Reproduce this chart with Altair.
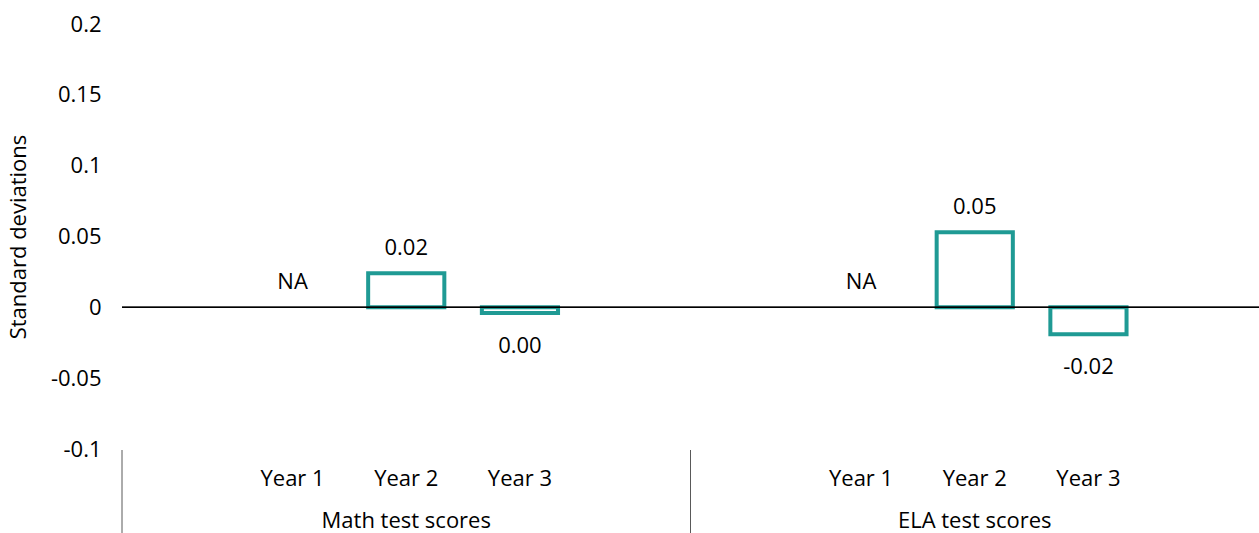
import altair as alt
import pandas as pd

# Effect sizes (standard deviations) by outcome and program year
groups = ["Math test scores", "ELA test scores"]
years = ["Year 1", "Year 2", "Year 3"]
math_scores = [None, 0.024, -0.004]
ela_scores = [None, 0.053, -0.019]

y_ticks = [-0.1, -0.05, 0, 0.05, 0.1, 0.15, 0.2]

TEAL = "#1f9a94"
FONT = "Open Sans"
FS = 22
W, H = 1137, 425


def fmt(v):
    s = f"{v:.2f}"
    return "0.00" if float(s) == 0 else s


# each group gets an empty slot on either side of its three years
slots = []
rows = []
for g, scores in zip(groups, [math_scores, ela_scores]):
    slots.append(f"{g}|_lead")
    for yr, v in zip(years, scores):
        key = f"{g}|{yr}"
        slots.append(key)
        rows.append({
            "slot": key,
            "value": v,
            "ypos": 0.0 if v is None else v,
            "label": "NA" if v is None else fmt(v),
            "side": "up" if v is None or v >= 0 else "down",
        })
    slots.append(f"{g}|_trail")
df = pd.DataFrame(rows)

df_groups = pd.DataFrame({
    "group": groups,
    "start": [f"{g}|_lead" for g in groups],
    "center": [f"{g}|{years[1]}" for g in groups],
})

x_scale = alt.Scale(domain=slots, paddingInner=0, paddingOuter=0)
y_scale = alt.Scale(domain=[-0.1, 0.2], nice=False, zero=False)

x_axis = alt.Axis(
    labelExpr="indexof(datum.value, '|_') >= 0 ? '' : slice(datum.value, indexof(datum.value, '|') + 1)",
    domain=False, ticks=False, grid=False, labelAngle=0,
    labelPadding=29, labelBaseline="middle", labelOverlap=False,
    labelFont=FONT, labelFontSize=FS, labelColor="#000",
)
y_axis = alt.Axis(
    values=y_ticks, labelExpr="datum.value + ''",
    domain=False, ticks=False, grid=False,
    labelPadding=21, labelFont=FONT, labelFontSize=FS, labelColor="#000",
    titleFont=FONT, titleFontSize=FS, titleColor="#000", titleFontWeight="normal",
    titleX=-104, titleY=H / 2, titleAlign="center", titleBaseline="middle",
)
Y_TITLE = "Standard deviations"


def xenc(field, **kw):
    return alt.X(field, scale=x_scale, axis=x_axis, title=None, **kw)


def yenc(field):
    return alt.Y(field, scale=y_scale, axis=y_axis, title=Y_TITLE)


bars = alt.Chart(df).transform_filter("isValid(datum.value)").mark_bar(
    filled=False, color=TEAL, strokeWidth=4,
    width=alt.RelativeBandSize(0.67),
).encode(
    x=xenc("slot:N"),
    y=yenc("value:Q"),
    y2=alt.datum(0),
)

zero_line = alt.Chart(df).mark_rule(color="#000", strokeWidth=1).encode(
    y=yenc("zero:Q")
).transform_calculate(zero="0")

labels_up = alt.Chart(df).transform_filter("datum.side == 'up'").mark_text(
    font=FONT, fontSize=FS, color="#000", baseline="middle", dy=-25
).encode(x=xenc("slot:N"), y=yenc("ypos:Q"), text="label:N")

labels_down = alt.Chart(df).transform_filter("datum.side == 'down'").mark_text(
    font=FONT, fontSize=FS, color="#000", baseline="middle", dy=33
).encode(x=xenc("slot:N"), y=yenc("ypos:Q"), text="label:N")

separators = alt.Chart(df_groups).mark_rule(color="#595959", strokeWidth=1).encode(
    x=xenc("start:N", bandPosition=0),
    y=alt.value(H + 1),
    y2=alt.value(H + 90),
)

group_labels = alt.Chart(df_groups).mark_text(
    font=FONT, fontSize=FS, color="#000", baseline="middle"
).encode(
    x=xenc("center:N"),
    y=alt.value(H + 72),
    text="group:N",
)

chart = alt.layer(
    bars, zero_line, labels_up, labels_down, separators, group_labels
).properties(
    width=W, height=H,
    autosize="none",
    padding={"left": 122, "top": 24, "right": 0, "bottom": 84},
).configure_view(stroke=None)

chart.save("out.html", embed_options={"renderer": "svg", "actions": False})
